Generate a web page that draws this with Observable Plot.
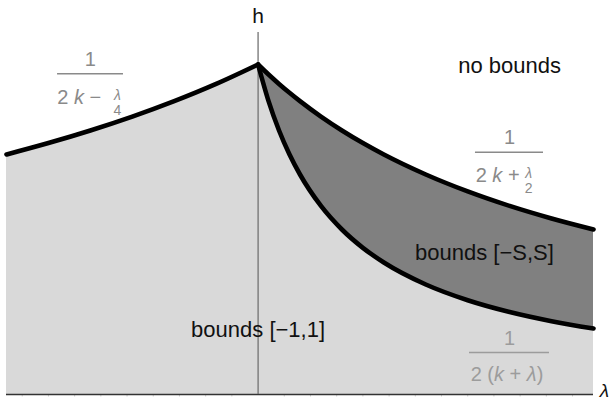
<!DOCTYPE html>
<html>
<head>
<meta charset="utf-8">
<script src="https://cdn.jsdelivr.net/npm/d3@7"></script>
<script src="https://cdn.jsdelivr.net/npm/@observablehq/plot@0.6"></script>
<style>
  html, body { margin: 0; padding: 0; background: white; overflow: hidden; }
  #chart svg { display: block; }
</style>
</head>
<body>
<div id="chart"></div>
<script>
// Bounds on h as a function of λ (k = 0.8)
// Left branch: h = 1 / (2k − λ/4)
const lambdaLeft = [-2.4, -2.0, -1.6, -1.2, -0.8, -0.4, 0];
const hLeft = [0.45455, 0.47619, 0.5, 0.52632, 0.55556, 0.58824, 0.625];

// Right branches: upper h = 1 / (2k + λ/2), lower h = 1 / (2(k + λ))
const lambdaRight = [0, 0.1, 0.2, 0.3, 0.4, 0.6, 0.8, 1.0, 1.2, 1.6, 2.0, 2.4, 2.8, 3.2];
const hUpper = [0.625, 0.60606, 0.58824, 0.57143, 0.55556, 0.52632, 0.5, 0.47619, 0.45455, 0.41667, 0.38462, 0.35714, 0.33333, 0.3125];
const hLower = [0.625, 0.55556, 0.5, 0.45455, 0.41667, 0.35714, 0.3125, 0.27778, 0.25, 0.20833, 0.17857, 0.15625, 0.13889, 0.125];

// Minor ticks along the λ axis
const lambdaTicks = [-2.25, -2.0, -1.75, -1.5, -1.25, -1.0, -0.75, -0.5, -0.25, 0.25, 0.5, 0.75, 1.0, 1.25, 1.5, 1.75, 2.0, 2.25, 2.5, 2.75, 3.0];

// Region labels
const regionLabels = ["no bounds", "bounds [−S,S]", "bounds [−1,1]"];
const regionLambda = [2.4, 2.16, 0];
const regionH = [0.6085, 0.2538, 0.1085];

const left = lambdaLeft.map((l, i) => ({lambda: l, h: hLeft[i]}));
const right = lambdaRight.map((l, i) => ({lambda: l, upper: hUpper[i], lower: hLower[i]}));
const regions = regionLabels.map((t, i) => ({text: t, lambda: regionLambda[i], h: regionH[i]}));

const font = "'Liberation Sans', Arial, Helvetica, sans-serif";
const curve = "monotone-x";

// A stacked fraction label: numerator, bar, denominator (with an optional small stacked fraction)
function fraction({x, y, x1, x2, color, den, denDx, denDy, small}) {
  const marks = [
    Plot.ruleY([y], {x1, x2, stroke: color, strokeWidth: 1.5}),
    Plot.text(["1"], {x, y, text: d => d, dy: -8, lineAnchor: "bottom", fontSize: 20, fill: color}),
    Plot.text([den], {x, y, text: d => d, dx: denDx, dy: denDy, textAnchor: "start", lineAnchor: "bottom", fontSize: 20, fill: color})
  ];
  if (small) {
    marks.push(
      Plot.text(["λ"], {x, y, text: d => d, dx: small.dx, dy: small.dyTop, lineAnchor: "bottom", fontSize: 14, fontStyle: "italic", fill: color}),
      Plot.text([small.den], {x, y, text: d => d, dx: small.dx, dy: small.dyBottom, lineAnchor: "bottom", fontSize: 14, fill: color})
    );
  }
  return marks;
}

const chart = Plot.plot({
  width: 610,
  height: 402,
  marginLeft: 6,
  marginRight: 17,
  marginTop: 64,
  marginBottom: 8,
  style: {fontFamily: font, background: "white"},
  x: {domain: [-2.4, 3.2], axis: null},
  y: {domain: [0, 0.625], axis: null},
  marks: [
    // filled regions
    Plot.areaY(left, {x: "lambda", y: "h", fill: "#d9d9d9", curve}),
    Plot.areaY(right, {x: "lambda", y: "lower", fill: "#d9d9d9", curve}),
    Plot.areaY(right, {x: "lambda", y1: "lower", y2: "upper", fill: "#808080", curve}),
    // axes
    Plot.ruleX(lambdaTicks, {y1: 0, y2: 0, insetBottom: -2.5, stroke: "#cfcfcf", strokeWidth: 1}),
    Plot.ruleY([0], {x1: -2.4, x2: 3.2, stroke: "#333", strokeWidth: 1.3}),
    Plot.ruleX([0], {y1: 0, y2: 0.6856, stroke: "#666", strokeWidth: 1.2}),
    // boundary curves
    Plot.line(left, {x: "lambda", y: "h", stroke: "black", strokeWidth: 4.6, strokeLinecap: "round", curve}),
    Plot.line(right, {x: "lambda", y: "lower", stroke: "black", strokeWidth: 4.6, strokeLinecap: "round", curve}),
    Plot.line(right, {x: "lambda", y: "upper", stroke: "black", strokeWidth: 4.6, strokeLinecap: "round", curve}),
    // region labels
    Plot.text(regions, {x: "lambda", y: "h", text: "text", lineAnchor: "bottom", fontSize: 22, fill: "#111"}),
    // axis labels
    Plot.text(["h"], {x: 0, y: 0.7027, text: d => d, lineAnchor: "bottom", fontSize: 21, fill: "#111"}),
    Plot.text(["λ"], {x: 3.305, y: -0.0045, text: d => d, lineAnchor: "bottom", fontSize: 19, fontStyle: "italic", fill: "#111"}),
    // curve formulas
    ...fraction({x: -1.6, y: 0.6074, x1: -1.913, x2: -1.284, color: "#8a8a8a",
      den: "2 k − ", denDx: -33, denDy: 30.5, small: {dx: 27, dyTop: 26, dyBottom: 41, den: "4"}}),
    ...fraction({x: 2.4, y: 0.4589, x1: 2.074, x2: 2.723, color: "#8a8a8a",
      den: "2 k + ", denDx: -34, denDy: 30, small: {dx: 19, dyTop: 26, dyBottom: 41, den: "2"}}),
    ...fraction({x: 2.4, y: 0.0795, x1: 2.017, x2: 2.780, color: "#9c9c9c",
      den: "2 (k + λ)", denDx: -39, denDy: 28})
  ]
});

// italicise the variables inside the formula denominators
d3.select(chart).selectAll("text").each(function() {
  const t = this.textContent;
  if (/^2 /.test(t)) {
    this.innerHTML = t.replace(/([kλ])/g, '<tspan font-style="italic">$1</tspan>');
  }
});

document.getElementById("chart").append(chart);
</script>
</body>
</html>
